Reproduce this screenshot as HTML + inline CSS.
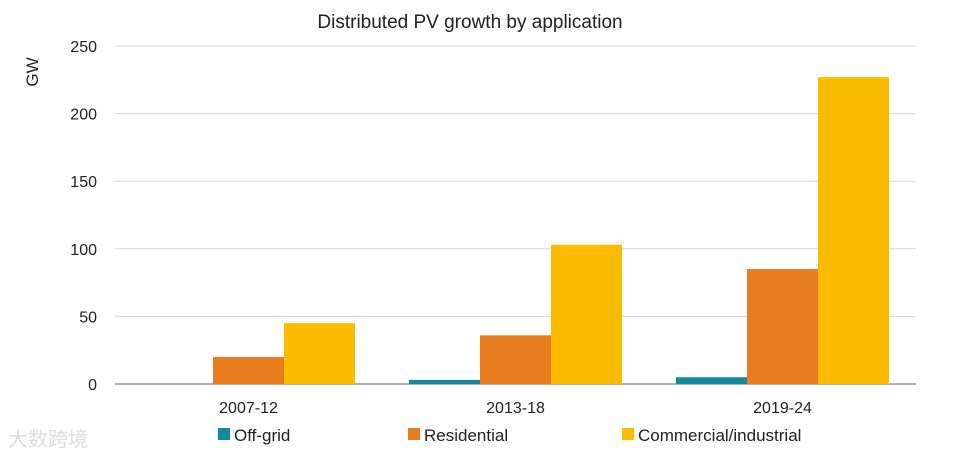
<!DOCTYPE html>
<html><head><meta charset="utf-8"><style>
body{margin:0;background:#fff;font-family:"Liberation Sans",sans-serif;}
svg text{font-family:"Liberation Sans","Noto Sans CJK SC",sans-serif;}
</style></head><body>
<svg id="chart" width="974" height="460">
<text x="470" y="28" text-anchor="middle" font-size="19" fill="#222">Distributed PV growth by application</text>
<text x="38" y="72" font-size="17" fill="#222" transform="rotate(-90 38 72)" text-anchor="middle">GW</text>
<g id="grid"></g><g id="bars"></g><g id="xlabels"></g>
<g id="legend"></g>
<text x="8" y="446" font-size="20" fill="#ddd">大数跨境</text>
</svg>
<script>
const categories=["2007-12","2013-18","2019-24"];
const seriesNames=["Off-grid","Residential","Commercial/industrial"];
const offGrid=[0,3,5];
const residential=[20,36,85];
const commercial=[45,103,227];
const yTicks=[0,50,100,150,200,250];
const colors=["#138a9b","#e87c1e","#fdbb00"];
const NS="http://www.w3.org/2000/svg";
const x0=115,x1=916,yTop=46,yBot=384,yMax=250;
const y=v=>yBot-(v/yMax)*(yBot-yTop);
const gw=(x1-x0)/categories.length,bw=71;
function mk(t,a,p){const e=document.createElementNS(NS,t);for(const k in a)e.setAttribute(k,a[k]);p.appendChild(e);return e;}
const grid=document.getElementById('grid');
yTicks.forEach(t=>{
 const l=mk('line',{x1:x0,x2:x1,y1:y(t),y2:y(t),stroke:t===0?'#999':'#d9d9d9','stroke-width':t===0?1.5:1},grid);
 
 
 const tx=mk('text',{x:97,y:y(t)+6,'text-anchor':'end','font-size':16,fill:'#222'},grid);
 tx.textContent=t;
 
 
});
const series=[offGrid,residential,commercial];
const bars=document.getElementById('bars');
categories.forEach((c,i)=>{
 const cx=x0+gw*(i+0.5);
 series.forEach((s,j)=>{
  const bx=cx+(j-1.5)*bw;
  const r=mk('rect',{x:bx,y:y(s[i]),width:bw,height:yBot-y(s[i]),fill:colors[j]},bars);
  
  
 });
 const t=mk('text',{x:cx,y:413,'text-anchor':'middle','font-size':16,fill:'#222'},document.getElementById('xlabels'));
 t.textContent=c;
 
 
});
const lg=document.getElementById('legend');
const lx=[218,408,622];
seriesNames.forEach((n,j)=>{
 const r=mk('rect',{x:lx[j],y:428,width:12,height:12,fill:colors[j]},lg);
 
 
 const t=mk('text',{x:lx[j]+16,y:441,'font-size':17,fill:'#222'},lg);
 t.textContent=n;
 
 
});
</script>
</body></html>
